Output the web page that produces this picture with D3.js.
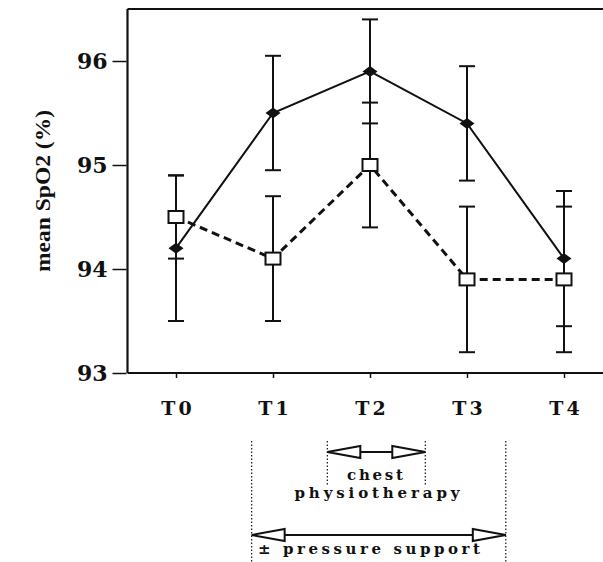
<!DOCTYPE html>
<html>
<head>
<meta charset="utf-8">
<script src="https://cdn.jsdelivr.net/npm/d3@7"></script>
<style>
  html, body { margin: 0; padding: 0; background: #fff; }
  svg { display: block; }
  text { font-family: "DejaVu Serif", "Liberation Serif", serif; font-weight: bold; fill: #111; }
</style>
</head>
<body>
<svg id="chart" width="603" height="562"></svg>
<script>
// Time points of the measurement protocol
const timepoints = ["T0", "T1", "T2", "T3", "T4"];
// Filled diamonds, solid line: mean SpO2 and error half-widths
const solidMean = [94.2, 95.5, 95.9, 95.4, 94.1];
const solidErr  = [0.7, 0.55, 0.5, 0.55, 0.65];
// Open squares, dashed line
const openMean = [94.5, 94.1, 95.0, 93.9, 93.9];
const openErr  = [0.4, 0.6, 0.6, 0.7, 0.7];
// Y axis ticks
const yTicks = [93, 94, 95, 96];
// Intervention periods, expressed on the time-point index axis
const chestSpan = [1.56, 2.57];
const pressureSpan = [0.78, 3.4];

const svg = d3.select("#chart");
const ink = "#111";

const x = d3.scaleLinear().domain([-0.5, 4.5]).range([127.5, 612.5]);
const y = d3.scaleLinear().domain([93, 96.5]).range([373, 9]);

// Frame: left, top and bottom lines
svg.append("line").attr("x1", x(-0.5)).attr("x2", x(-0.5)).attr("y1", y(96.5)).attr("y2", y(93))
  .attr("stroke", ink).attr("stroke-width", 2.2);
svg.append("line").attr("x1", x(-0.5)).attr("x2", 603).attr("y1", y(96.5)).attr("y2", y(96.5))
  .attr("stroke", ink).attr("stroke-width", 2);
svg.append("line").attr("x1", x(-0.5)).attr("x2", 603).attr("y1", y(93)).attr("y2", y(93))
  .attr("stroke", ink).attr("stroke-width", 2.2);

// Y axis
const yAxis = d3.axisLeft(y).tickValues(yTicks).tickSize(14).tickPadding(5).tickFormat(d3.format("d"));
const gy = svg.append("g").attr("transform", `translate(${x(-0.5) - 1},0)`).call(yAxis);
gy.select(".domain").remove();
gy.selectAll(".tick line").attr("stroke", ink).attr("stroke-width", 1.5);
gy.selectAll(".tick text").attr("font-size", 22).attr("fill", ink)
  .style("font-family", '"DejaVu Serif", serif').style("font-weight", "bold");

// X axis
const xAxis = d3.axisBottom(x).tickValues(d3.range(timepoints.length)).tickSize(5).tickPadding(24)
  .tickFormat(i => timepoints[i]);
const gx = svg.append("g").attr("transform", `translate(0,${y(93)})`).call(xAxis);
gx.select(".domain").remove();
gx.selectAll(".tick line").attr("stroke", ink).attr("stroke-width", 1.5);
gx.selectAll(".tick text").attr("font-size", 19).attr("fill", ink).attr("letter-spacing", 3)
  .attr("dx", 1.5)
  .style("font-family", '"DejaVu Serif", serif').style("font-weight", "bold");

// Y axis title
svg.append("text")
  .attr("transform", `translate(50,${191}) rotate(-90)`)
  .attr("text-anchor", "middle")
  .attr("font-size", 22)
  .style("font-family", '"Liberation Serif", serif')
  .attr("textLength", 162).attr("lengthAdjust", "spacingAndGlyphs")
  .text("mean SpO2 (%)");

// Error bars
function errorBars(means, errs, cls) {
  const g = svg.append("g").attr("class", cls);
  means.forEach((m, i) => {
    const cx = x(i), lo = y(m - errs[i]), hi = y(m + errs[i]);
    g.append("line").attr("x1", cx).attr("x2", cx).attr("y1", lo).attr("y2", hi)
      .attr("stroke", ink).attr("stroke-width", 2);
    [lo, hi].forEach(v => g.append("line").attr("x1", cx - 8).attr("x2", cx + 8)
      .attr("y1", v).attr("y2", v).attr("stroke", ink).attr("stroke-width", 2));
  });
}
errorBars(solidMean, solidErr, "err-solid");
errorBars(openMean, openErr, "err-open");

// Series lines
const line = d3.line().x((d, i) => x(i)).y(d => y(d));
svg.append("path").datum(openMean).attr("d", line).attr("fill", "none")
  .attr("stroke", ink).attr("stroke-width", 3).attr("stroke-dasharray", "8,5");
svg.append("path").datum(solidMean).attr("d", line).attr("fill", "none")
  .attr("stroke", ink).attr("stroke-width", 2);

// Open squares
svg.append("g").selectAll("rect").data(openMean).join("rect")
  .attr("x", (d, i) => x(i) - 7.5).attr("y", d => y(d) - 6)
  .attr("width", 15).attr("height", 12)
  .attr("fill", "#fff").attr("stroke", ink).attr("stroke-width", 2);

// Filled diamonds
svg.append("g").selectAll("path").data(solidMean).join("path")
  .attr("transform", (d, i) => `translate(${x(i)},${y(d)})`)
  .attr("d", "M-7.5,0 L0,-5.5 L7.5,0 L0,5.5 Z")
  .attr("fill", ink);

// Intervention annotations below the axis
function dottedV(xv, y1, y2) {
  svg.append("line").attr("x1", xv).attr("x2", xv).attr("y1", y1).attr("y2", y2)
    .attr("stroke", ink).attr("stroke-width", 1.2).attr("stroke-dasharray", "1.5,2");
}
function doubleArrow(x1, x2, yv, head) {
  svg.append("line").attr("x1", x1 + head).attr("x2", x2 - head).attr("y1", yv).attr("y2", yv)
    .attr("stroke", ink).attr("stroke-width", 2);
  svg.append("path").attr("d", `M${x1},${yv} L${x1 + head},${yv - 6} L${x1 + head},${yv + 6} Z`)
    .attr("fill", "#fff").attr("stroke", ink).attr("stroke-width", 2).attr("stroke-linejoin", "miter");
  svg.append("path").attr("d", `M${x2},${yv} L${x2 - head},${yv - 6} L${x2 - head},${yv + 6} Z`)
    .attr("fill", "#fff").attr("stroke", ink).attr("stroke-width", 2).attr("stroke-linejoin", "miter");
}

dottedV(x(pressureSpan[0]), 441, 562);
dottedV(x(pressureSpan[1]), 441, 562);
dottedV(x(chestSpan[0]), 441, 486);
dottedV(x(chestSpan[1]), 441, 486);

doubleArrow(x(chestSpan[0]), x(chestSpan[1]), 452, 33);
doubleArrow(x(pressureSpan[0]), x(pressureSpan[1]), 535, 33);

svg.append("text").attr("x", 375).attr("y", 480).attr("text-anchor", "middle")
  .attr("font-size", 15).attr("textLength", 56).attr("lengthAdjust", "spacing").text("chest");
svg.append("text").attr("x", 377).attr("y", 498).attr("text-anchor", "middle")
  .attr("font-size", 15).attr("textLength", 165).attr("lengthAdjust", "spacing").text("physiotherapy");
svg.append("text").attr("x", 258).attr("y", 554)
  .attr("font-size", 15).attr("textLength", 222).attr("lengthAdjust", "spacing").text("± pressure support");
</script>
</body>
</html>
